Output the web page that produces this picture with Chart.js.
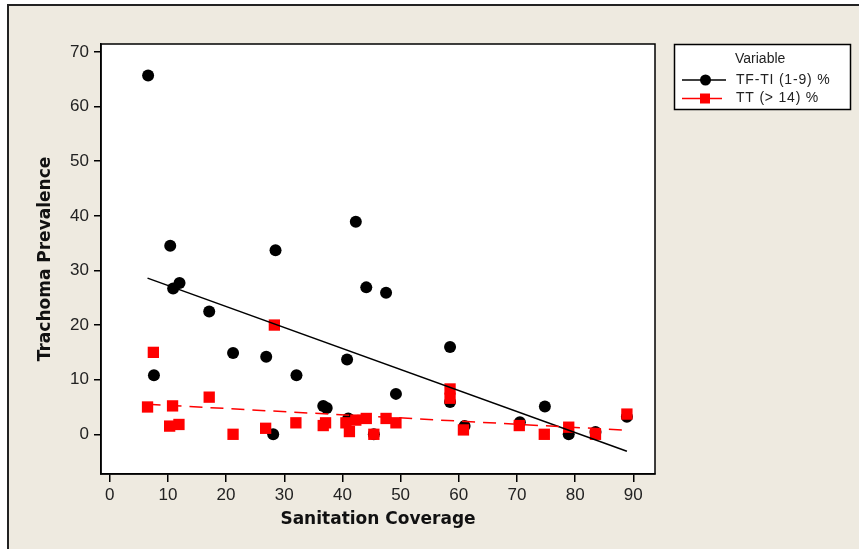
<!DOCTYPE html>
<html>
<head>
<meta charset="utf-8">
<script src="https://cdn.jsdelivr.net/npm/chart.js@4/dist/chart.umd.min.js"></script>
<style>
html,body{margin:0;padding:0;background:#fff;}
#wrap{width:859px;height:549px;}
</style>
</head>
<body>
<div id="wrap"><canvas id="c" width="859" height="549"></canvas></div>
<script>
// ---- data ----
const tfX = [6.6, 7.6, 10.4, 10.9, 12.0, 17.1, 21.2, 26.9, 28.1, 28.5, 32.1, 36.7, 37.3, 40.8, 41.0, 42.3, 44.1, 45.4, 47.5, 49.2, 58.5, 58.5, 61.0, 70.5, 74.8, 78.9, 83.5, 88.9];
const tfY = [65.7, 10.8, 34.5, 26.7, 27.7, 22.5, 14.9, 14.2, 0, 33.7, 10.8, 5.2, 4.8, 13.7, 2.9, 38.9, 26.9, 0, 25.9, 7.4, 16.0, 5.9, 1.5, 2.2, 5.1, 0, 0.4, 3.2];
const ttX = [6.5, 7.5, 10.3, 10.8, 11.9, 17.1, 21.2, 26.8, 28.3, 32.0, 36.7, 37.1, 40.6, 41.2, 42.3, 44.1, 45.4, 47.5, 49.2, 58.5, 58.5, 60.8, 70.4, 74.7, 78.9, 83.5, 88.9];
const ttY = [5.0, 15.0, 1.5, 5.2, 1.8, 6.8, 0, 1.1, 20.0, 2.1, 1.6, 2.1, 2.1, 0.5, 2.6, 2.9, 0, 2.9, 2.1, 8.3, 6.6, 0.8, 1.6, 0, 1.3, 0, 3.7];
const fitX = [6.5, 88.9];
const tfFit = [28.6, -3.1];
const ttFit = [5.5, 0.75];
const xTicks = [0, 10, 20, 30, 40, 50, 60, 70, 80, 90];
const yTicks = [0, 10, 20, 30, 40, 50, 60, 70];
const seriesNames = ['TF-TI (1-9) %', 'TT (> 14) %'];
const legendTitle = 'Variable';
const xTitle = 'Sanitation Coverage';
const yTitle = 'Trachoma Prevalence';

const pts = (xs, ys) => xs.map((x, i) => ({x: x, y: ys[i]}));

const BEIGE = '#EEEAE0';

const framePlugin = {
  id: 'frame',
  beforeDraw(chart) {
    const ctx = chart.ctx, a = chart.chartArea;
    ctx.save();
    ctx.fillStyle = '#ffffff';
    ctx.fillRect(0, 0, chart.width, chart.height);
    ctx.fillStyle = BEIGE;
    ctx.fillRect(8, 5, chart.width - 8, chart.height - 5);
    ctx.strokeStyle = '#222';
    ctx.lineWidth = 2;
    ctx.beginPath();
    ctx.moveTo(8, chart.height);
    ctx.lineTo(8, 5);
    ctx.lineTo(chart.width, 5);
    ctx.stroke();
    ctx.fillStyle = '#ffffff';
    ctx.fillRect(a.left, a.top, a.right - a.left, a.bottom - a.top);
    ctx.restore();
  },
  afterDraw(chart) {
    const ctx = chart.ctx, a = chart.chartArea;
    ctx.save();
    ctx.strokeStyle = '#000';
    ctx.lineWidth = 1.5;
    ctx.strokeRect(a.left, a.top, a.right - a.left, a.bottom - a.top);
    // legend
    const bx = 674.5, by = 44.5, bw = 176, bh = 65;
    ctx.fillStyle = '#fff';
    ctx.fillRect(bx, by, bw, bh);
    ctx.strokeRect(bx, by, bw, bh);
    ctx.fillStyle = '#222';
    ctx.font = '14px "Liberation Sans", Arial, sans-serif';
    ctx.textBaseline = 'middle';
    ctx.textAlign = 'left';
    ctx.fillText(legendTitle, 735, 59);
    try { ctx.letterSpacing = '0.8px'; } catch (e) {}
    const ds = chart.data.datasets;
    // row 1
    ctx.strokeStyle = '#000';
    ctx.lineWidth = 1.5;
    ctx.beginPath(); ctx.moveTo(682, 80); ctx.lineTo(726, 80); ctx.stroke();
    ctx.fillStyle = '#000';
    ctx.beginPath(); ctx.arc(705.5, 80, 5.5, 0, Math.PI * 2); ctx.fill();
    ctx.fillStyle = '#222';
    ctx.fillText(ds[0].label, 736, 80);
    // row 2
    ctx.strokeStyle = '#ff0000';
    ctx.beginPath(); ctx.moveTo(682, 98.5); ctx.lineTo(722, 98.5); ctx.stroke();
    ctx.fillStyle = '#ff0000';
    ctx.fillRect(700, 93.5, 10, 10);
    ctx.fillStyle = '#222';
    ctx.fillText(ds[1].label, 736, 98.5);
    ctx.restore();
  }
};

const tickFont = {family: '"Liberation Sans", Arial, sans-serif', size: 17};
const titleFont = {family: '"DejaVu Sans", Verdana, sans-serif', size: 17, weight: 'bold', lineHeight: 1};

new Chart(document.getElementById('c'), {
  type: 'scatter',
  data: {
    datasets: [
      {
        label: seriesNames[0],
        data: pts(tfX, tfY),
        pointStyle: 'circle',
        pointRadius: 6,
        pointHoverRadius: 6,
        backgroundColor: '#000',
        borderColor: '#000',
        borderWidth: 0,
        order: 4
      },
      {
        label: seriesNames[1],
        data: pts(ttX, ttY),
        pointStyle: 'rect',
        pointRadius: 8,
        pointHoverRadius: 8,
        backgroundColor: '#ff0000',
        borderColor: '#ff0000',
        borderWidth: 0,
        order: 3
      },
      {
        label: seriesNames[0] + ' fit',
        type: 'line',
        data: pts(fitX, tfFit),
        borderColor: '#000',
        borderWidth: 1.5,
        pointRadius: 0,
        fill: false,
        order: 2
      },
      {
        label: seriesNames[1] + ' fit',
        type: 'line',
        data: pts(fitX, ttFit),
        borderColor: '#ff0000',
        borderWidth: 1.5,
        borderDash: [13, 8],
        pointRadius: 0,
        fill: false,
        order: 1
      }
    ]
  },
  options: {
    responsive: false,
    animation: false,
    devicePixelRatio: 1,
    layout: {padding: {left: 0, top: 44, right: 204, bottom: 0}},
    plugins: {
      legend: {display: false},
      tooltip: {enabled: false}
    },
    scales: {
      x: {
        type: 'linear',
        min: -1.5,
        max: 93.73,
        afterBuildTicks: s => { s.ticks = xTicks.map(v => ({value: v})); },
        afterFit: s => { s.height = 75; },
        grid: {drawOnChartArea: false, drawTicks: true, tickLength: 8, color: '#000', lineWidth: 1.5},
        border: {display: true, color: '#000', width: 1.5},
        ticks: {font: tickFont, color: '#222', padding: 3, maxRotation: 0},
        title: {display: true, text: xTitle, font: titleFont, color: '#111', padding: {top: 0, bottom: 21}}
      },
      y: {
        type: 'linear',
        min: -7.27,
        max: 71.46,
        afterBuildTicks: s => { s.ticks = yTicks.map(v => ({value: v})); },
        afterFit: s => { s.width = 101; },
        grid: {drawOnChartArea: false, drawTicks: true, tickLength: 7, color: '#000', lineWidth: 1.5},
        border: {display: true, color: '#000', width: 1.5},
        ticks: {font: tickFont, color: '#222', padding: 5},
        title: {display: true, text: yTitle, font: titleFont, color: '#111', padding: {top: 37, bottom: 0}}
      }
    }
  },
  plugins: [framePlugin]
});
</script>
</body>
</html>
